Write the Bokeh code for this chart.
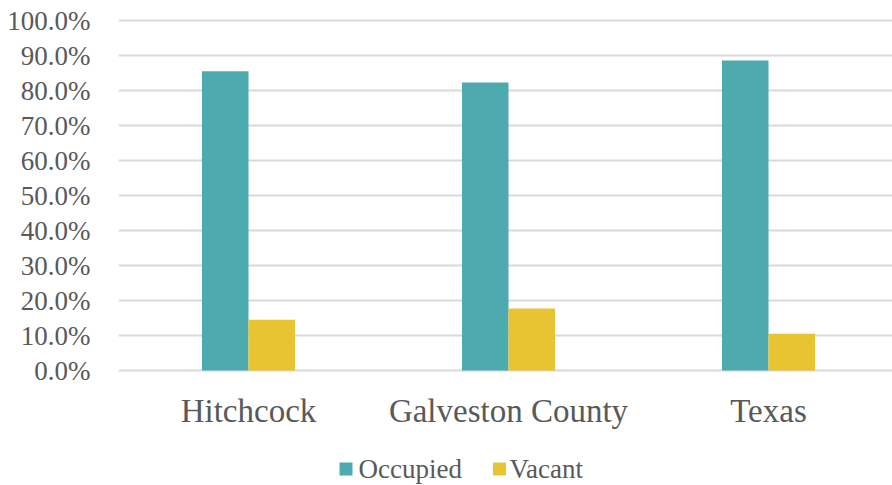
from bokeh.plotting import figure
from bokeh.models import Range1d, FixedTicker, ColumnDataSource
from bokeh.core.properties import value
from bokeh.embed import file_html
from bokeh.resources import INLINE

categories = ["Hitchcock", "Galveston County", "Texas"]
series = ["Occupied", "Vacant"]
occupied = [85.5, 82.3, 88.6]
vacant = [14.5, 17.7, 10.5]
y_ticks = [0, 10, 20, 30, 40, 50, 60, 70, 80, 90, 100]

TEAL = "#4DAAAF"
GOLD = "#E8C433"
COLORS = [TEAL, GOLD]
TXT = "#595959"
FONT = "Liberation Serif"

# layout constants (pixels): frame left at 118, 260 px per category,
# 100% gridline at y=20, 0% at y=370
LEFT = 118
PX_PER_CAT = 260
PX_PER_UNIT = 3.5
TOP_BORDER = 18
HEIGHT = 485
WIDTH = 892


def dx(sx):
    return (sx - LEFT) / PX_PER_CAT


def dy(sy):
    return (370 - sy) / PX_PER_UNIT


y_end = dy(TOP_BORDER)
y_start = dy(HEIGHT)

bw = 0.179
centers = [i + 0.5 for i in range(len(categories))]
src = ColumnDataSource(dict(
    xo=[c - bw / 2 for c in centers],
    xv=[c + bw / 2 for c in centers],
    occ=occupied, vac=vacant,
))
lab = ColumnDataSource(dict(x=centers, y=[dy(410)] * len(centers), t=categories))

leg_sq_x = [dx(345.5), dx(499)]
leg_tx_x = [dx(358), dx(509)]
leg = ColumnDataSource(dict(sx=leg_sq_x, tx=leg_tx_x, y=[dy(468.5)] * 2,
                            t=series, c=COLORS))

p = figure(width=WIDTH, height=HEIGHT, output_backend="svg", toolbar_location=None,
           x_range=Range1d(0, dx(WIDTH)), y_range=Range1d(y_start, y_end),
           min_border_left=LEFT, min_border_right=0, min_border_top=TOP_BORDER,
           min_border_bottom=0)
p.outline_line_color = None
p.background_fill_color = "white"
p.border_fill_color = "white"

p.vbar(x="xo", top="occ", width=bw, source=src, fill_color=TEAL, line_color=None)
p.vbar(x="xv", top="vac", width=bw, source=src, fill_color=GOLD, line_color=None)

p.text(x="x", y="y", text="t", source=lab, text_align="center",
       text_baseline="middle", text_font=value(FONT), text_font_size="33px",
       text_color=TXT)

# legend
p.scatter(x="sx", y="y", source=leg, marker="square", size=13,
          fill_color="c", line_color=None)
p.text(x="tx", y="y", text="t", source=leg, text_align="left",
       text_baseline="middle", text_font=value(FONT), text_font_size="27px",
       text_color=TXT)

p.xgrid.grid_line_color = None
p.ygrid.grid_line_color = "#D9D9D9"
p.ygrid.grid_line_width = 2
p.ygrid.ticker = FixedTicker(ticks=y_ticks)

p.xaxis.visible = False

ya = p.yaxis[0]
ya.ticker = FixedTicker(ticks=y_ticks)
ya.major_label_overrides = {t: f"{t:.1f}%" for t in y_ticks}
ya.axis_line_color = None
ya.major_tick_line_color = None
ya.minor_tick_line_color = None
ya.major_label_text_font = FONT
ya.major_label_text_font_size = "27px"
ya.major_label_text_color = TXT
ya.major_label_standoff = 22

open("out.html", "w").write(file_html(p, INLINE))
